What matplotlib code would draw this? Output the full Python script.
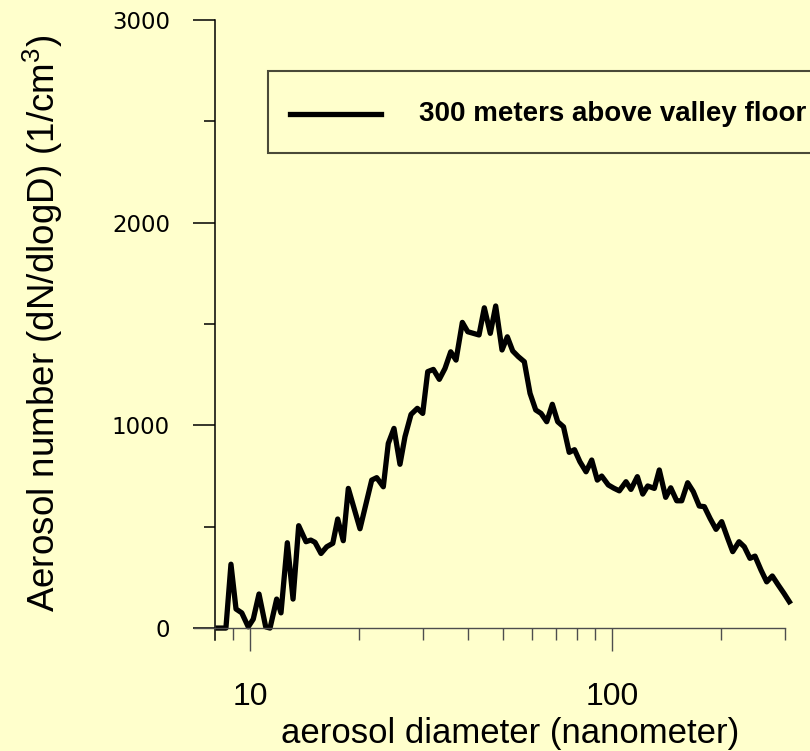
import numpy as np
import matplotlib
matplotlib.use("Agg")
import matplotlib.pyplot as plt
from matplotlib.ticker import NullFormatter
from matplotlib.legend_handler import HandlerLine2D

# Size distribution measured 300 m above the valley floor
diameter_nm = [
    8.17, 8.58, 8.86, 9.15, 9.49, 9.89, 10.21, 10.59, 11.05, 11.36,
    11.85, 12.18, 12.68, 13.15, 13.63, 14.28, 14.72, 15.12, 15.71, 16.29,
    16.93, 17.47, 18.10, 18.69, 20.13, 21.69, 22.39, 23.35, 24.10, 24.99,
    25.96, 26.80, 27.85, 28.99, 30.00, 30.97, 32.10, 33.34, 34.57, 35.85,
    37.08, 38.60, 39.95, 41.40, 42.92, 44.39, 46.11, 47.72, 49.68, 51.38,
    53.18, 55.11, 57.25, 59.37, 61.56, 63.68, 66.03, 68.42, 70.79, 73.45,
    76.17, 78.78, 81.52, 84.78, 87.89, 91.08, 93.65, 97.67, 101.2, 104.76,
    109.3, 112.8, 117.5, 121.6, 125.5, 130.9, 135.1, 140.7, 145.3, 150.9,
    155.8, 161.8, 167.7, 174.2, 179.9, 186.6, 193.8, 200.9, 208.7, 215.5,
    224.3, 232.0, 240.5, 248.3, 258.0, 267.5, 277.2, 288.0, 298.6, 308.9,
]
number_conc = [
    0, 0, 315, 94, 75, 6, 44, 168, 6, 0,
    143, 75, 421, 143, 505, 426, 434, 423, 368, 401,
    418, 538, 431, 689, 490, 730, 742, 697, 911, 985,
    808, 944, 1054, 1084, 1059, 1265, 1276, 1227, 1281, 1363,
    1322, 1508, 1462, 1454, 1446, 1580, 1454, 1589, 1372, 1437,
    1367, 1339, 1314, 1158, 1076, 1059, 1018, 1104, 1018, 993,
    867, 880, 821, 771, 829, 730, 750, 706, 690, 677,
    722, 684, 747, 661, 701, 689, 780, 645, 692, 628,
    628, 717, 673, 602, 599, 541, 487, 525, 443, 377,
    426, 401, 344, 355, 286, 228, 257, 212, 171, 130,
]
series_label = "300 meters above valley floor"

x_major = [10, 100]
x_major_labels = ["10", "100"]
x_minor = [9, 20, 30, 40, 50, 60, 70, 80, 90, 200, 300]
y_major = [0, 1000, 2000, 3000]
y_minor = [500, 1500, 2500]

plt.rcParams["mathtext.fontset"] = "custom"
plt.rcParams["mathtext.rm"] = "Liberation Sans"
plt.rcParams["mathtext.it"] = "Liberation Sans:italic"

bg = "#FFFFCC"
axis_grey = "#4d4d4d"


class CenteredLineHandler(HandlerLine2D):
    """Legend line handle lowered to sit level with the label text."""

    def create_artists(self, legend, orig_handle, xdescent, ydescent,
                       width, height, fontsize, trans):
        artists = super().create_artists(legend, orig_handle, xdescent,
                                         ydescent, width, height, fontsize,
                                         trans)
        for art in artists:
            art.set_ydata(np.asarray(art.get_ydata()) - 0.25 * fontsize)
        return artists


fig = plt.figure(figsize=(8.1, 7.51), dpi=100, facecolor=bg)
ax = fig.add_axes([0.2394, 0.1475, 0.7294, 0.8259], facecolor=bg)
ax.set_xscale("log")
ax.set_xlim(7, 300)
ax.set_ylim(-60, 3000)

line, = ax.plot(diameter_nm, number_conc, color="black", lw=3.8,
                solid_joinstyle="round", clip_on=False, label=series_label)

# Offset axes: y axis sits at 8 nm, x axis runs along zero
for side in ("top", "right"):
    ax.spines[side].set_visible(False)
ax.spines["left"].set_position(("data", 8))
ax.spines["bottom"].set_position(("data", 0))
ax.spines["left"].set_linewidth(1.1)
ax.spines["left"].set_color("black")
ax.spines["bottom"].set_linewidth(1.0)
ax.spines["bottom"].set_color(axis_grey)

ax.set_xticks(x_major)
ax.set_xticklabels(x_major_labels)
ax.set_xticks(x_minor, minor=True)
ax.xaxis.set_minor_formatter(NullFormatter())
ax.set_yticks(y_major)
ax.set_yticks(y_minor, minor=True)
ax.yaxis.set_minor_formatter(NullFormatter())

ax.tick_params(axis="x", which="major", direction="out", length=16.5, width=1.0,
               color=axis_grey, pad=22, labelsize=23,
               labelfontfamily="Liberation Sans", labelcolor="black")
ax.tick_params(axis="x", which="minor", direction="out", length=8.6, width=1.0,
               color=axis_grey)
ax.tick_params(axis="y", which="major", direction="out", length=15.8, width=1.1,
               color="black", pad=16.5, labelsize=16.5,
               labelfontfamily="DejaVu Sans", labelcolor="black")
ax.tick_params(axis="y", which="minor", direction="out", length=7.9, width=1.1,
               color="black")

ax.set_xlabel("aerosol diameter (nanometer)", fontsize=25,
              fontfamily="Liberation Sans")
ax.xaxis.set_label_coords(0.535, -0.124)
ax.set_ylabel("Aerosol number (dN/dlogD) (1/cm$^3$)", fontsize=26.5,
              fontfamily="Liberation Sans")
ax.yaxis.set_label_coords(-0.219, 0.511)

leg = ax.legend(loc="upper left", bbox_to_anchor=(268 / 810, 1 - 71 / 751),
                bbox_transform=fig.transFigure,
                handler_map={line: CenteredLineHandler()},
                prop={"family": "Liberation Sans", "weight": "bold", "size": 20},
                handlelength=3.26, handletextpad=1.38, handleheight=1.68,
                borderpad=0.8, borderaxespad=0, frameon=True, fancybox=False,
                facecolor=bg, edgecolor="#4a4a38", framealpha=1)
leg.get_frame().set_linewidth(1.5)

fig.savefig("out.png", dpi=100, facecolor=bg)
